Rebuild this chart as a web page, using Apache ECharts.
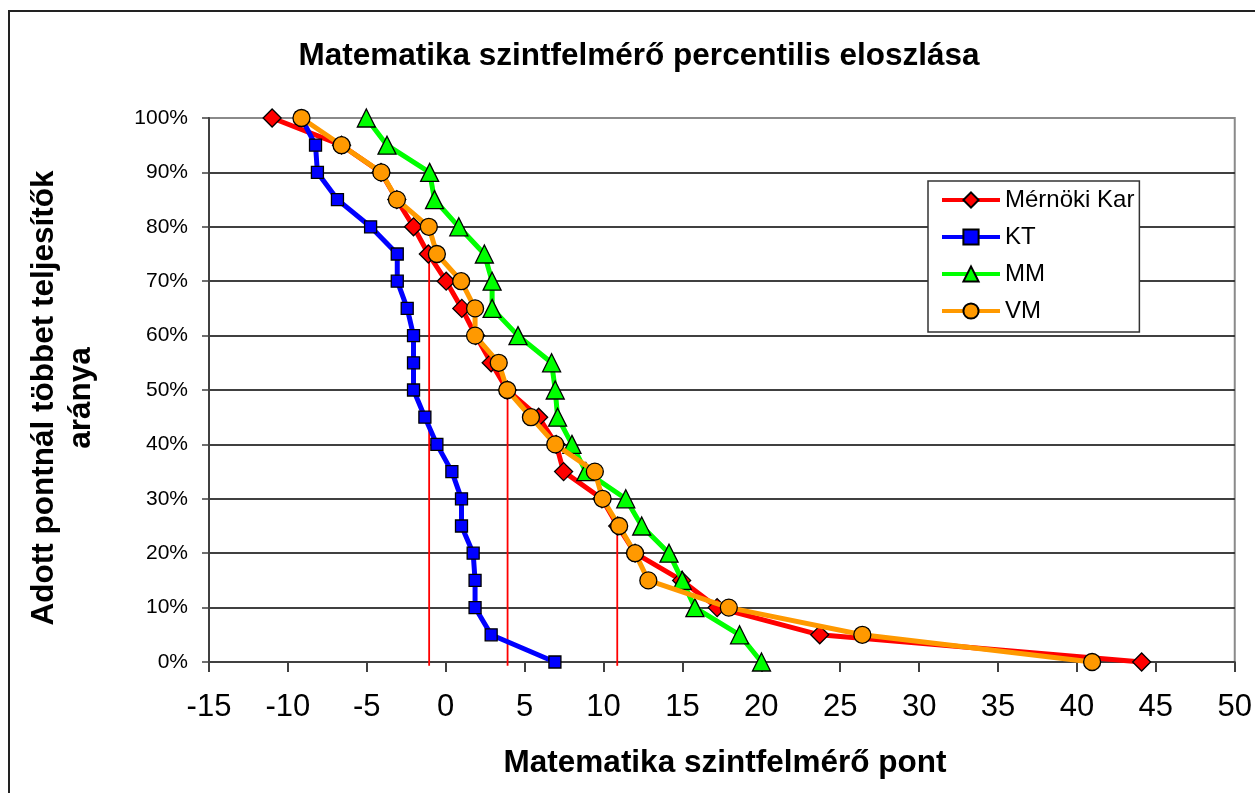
<!DOCTYPE html>
<html><head><meta charset="utf-8">
<script src="https://cdn.jsdelivr.net/npm/echarts@6/dist/echarts.min.js"></script>
<style>html,body{margin:0;padding:0;background:#fff}#c{width:1255px;height:793px}</style>
</head><body><div id="c"></div>
<script>
// percent levels (share of students scoring above the given point)
const levels = [100,95,90,85,80,75,70,65,60,55,50,45,40,35,30,25,20,15,10,5,0];
// scores per series at each level
const mernokiKar = [-11.0,-6.6,-4.1,-3.1,-2.04,-1.1,0.03,1.02,1.9,2.88,3.9,5.89,7.0,7.47,9.9,10.9,12.0,14.95,17.2,23.7,44.1];
const kt = [-9.14,-8.25,-8.13,-6.86,-4.76,-3.07,-3.07,-2.44,-2.04,-2.04,-2.04,-1.32,-0.56,0.39,1.0,1.0,1.74,1.86,1.86,2.88,6.92];
const mm = [-5.03,-3.72,-1.02,-0.71,0.83,2.45,2.94,2.94,4.58,6.71,6.94,7.09,8.0,8.88,11.41,12.42,14.15,14.99,15.79,18.62,20.01];
const vm = [-9.14,-6.6,-4.08,-3.09,-1.07,-0.56,0.98,1.86,1.86,3.36,3.9,5.4,6.94,9.45,9.94,10.99,12.0,12.84,17.94,26.4,40.96];
// quartile marker lines (Mérnöki Kar)
const quartileX = [-1.05, 3.92, 10.87];
const quartileTop = [75, 50, 25];
const quartileBottom = -0.7;

const seriesNames = ['Mérnöki Kar','KT','MM','VM'];
const seriesData = [mernokiKar, kt, mm, vm];
const colors = ['#FF0000','#0000FF','#00FF00','#FF9900'];
const symbols = ['diamond','rect','triangle','circle'];
const symbolSizes = [18, 12, 18, 17];

const FONT = '"Liberation Sans", Arial, sans-serif';

const chart = echarts.init(document.getElementById('c'), null, {renderer:'canvas'});

const series = [];
quartileX.forEach((q, i) => {
  series.push({
    name: 'q' + i, type: 'line', silent: true, clip: false, symbol: 'none',
    data: [[q, quartileTop[i]], [q, quartileBottom]],
    lineStyle: {color: '#FF0000', width: 1.8}, z: 1, animation: false
  });
});
seriesNames.forEach((n, i) => {
  series.push({
    name: n, type: 'line',
    data: seriesData[i].map((x, j) => [x, levels[j]]),
    symbol: symbols[i], symbolSize: symbolSizes[i],
    lineStyle: {color: colors[i], width: 5},
    itemStyle: {color: colors[i], borderColor: '#000', borderWidth: 1.3},
    z: 3 + i, animation: false
  });
});

const splitColors = [];
for (let v = 0; v <= 100; v += 10) splitColors.push(v === 100 ? '#8a8a8a' : '#000');

chart.setOption({
  backgroundColor: '#fff',
  animation: false,
  textStyle: {fontFamily: FONT},
  grid: {left: 209, right: 18, top: 118, bottom: 131, show: true, borderColor: '#8a8a8a', borderWidth: 2},
  xAxis: {
    type: 'value', min: -15, max: 50, interval: 5,
    axisLine: {show: true, onZero: false, lineStyle: {color: '#404040', width: 2}},
    axisTick: {show: true, length: 10, lineStyle: {color: '#404040', width: 2}},
    axisLabel: {color: '#000', fontSize: 31, fontFamily: FONT, margin: 30},
    splitLine: {show: false}
  },
  yAxis: {
    type: 'value', min: 0, max: 100, interval: 10,
    axisLine: {show: true, onZero: false, lineStyle: {color: '#404040', width: 2}},
    axisTick: {show: true, length: 7, lineStyle: {color: '#404040', width: 1.5}},
    axisLabel: {color: '#000', fontSize: 21, fontFamily: FONT, margin: 21, formatter: '{value}%'},
    splitLine: {show: true, lineStyle: {color: splitColors, width: 1.5}}
  },
  legend: {
    data: seriesNames, orient: 'vertical', left: 928, top: 181,
    padding: [5, 5, 7, 12], itemWidth: 58, itemHeight: 19, itemGap: 9,
    borderColor: '#333', borderWidth: 1.5, backgroundColor: '#fff',
    lineStyle: {width: 4},
    textStyle: {fontSize: 24, lineHeight: 28, color: '#000', fontFamily: FONT}
  },
  graphic: [
    {type: 'rect', shape: {x: 9, y: 11, width: 1300, height: 850}, style: {fill: 'none', stroke: '#222', lineWidth: 2}, silent: true, z: -10},
    {type: 'text', x: 639, y: 56, style: {text: 'Matematika szintfelmérő percentilis eloszlása', font: 'bold 31.5px ' + FONT, fill: '#000', textAlign: 'center', textVerticalAlign: 'middle'}},
    {type: 'text', x: 725, y: 763, style: {text: 'Matematika szintfelmérő pont', font: 'bold 31.5px ' + FONT, fill: '#000', textAlign: 'center', textVerticalAlign: 'middle'}},
    {type: 'text', x: 63, y: 398, rotation: Math.PI / 2, style: {text: 'Adott pontnál többet teljesítők\naránya', font: 'bold 31.5px ' + FONT, lineHeight: 37, fill: '#000', textAlign: 'center', textVerticalAlign: 'middle'}}
  ],
  series: series
});
</script>
</body></html>
